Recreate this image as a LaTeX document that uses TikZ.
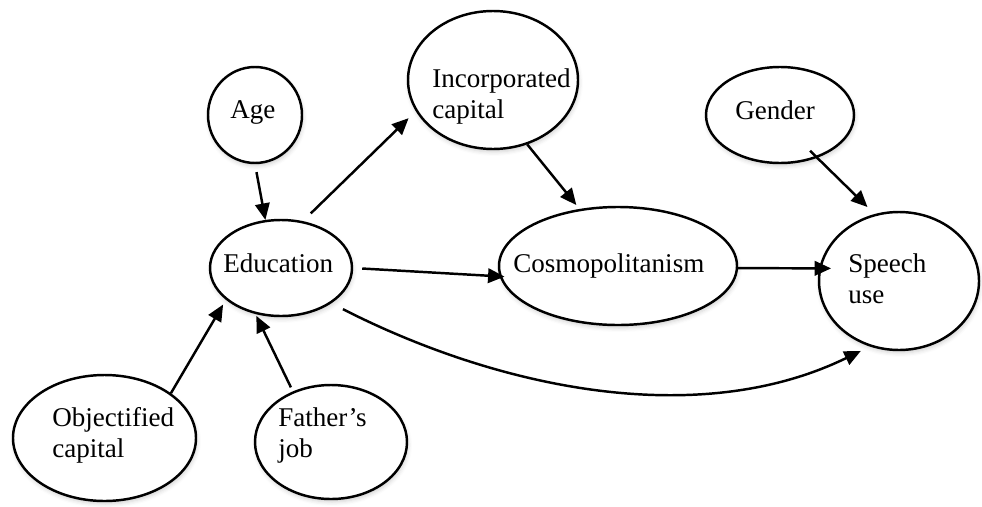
\documentclass[tikz,border=0pt]{standalone}
\usepackage{fontspec}
\setmainfont{Liberation Serif}
\usetikzlibrary{arrows.meta,shapes.geometric,shadows.blur}

\begin{document}
\begin{tikzpicture}[
    var/.style={ellipse, draw, line width=1.4pt, fill=white, inner sep=0pt,
        blur shadow={shadow xshift=0.02cm, shadow yshift=-0.06cm,
            shadow blur radius=0.08cm, shadow opacity=18}},
    lbl/.style={anchor=base west, inner sep=0pt, align=left,
        font=\fontsize{15.4pt}{17.1pt}\selectfont},
    arr/.style={line width=1.4pt, -{Triangle[length=0.33cm,width=0.29cm]}}
]
    \useasboundingbox (0,0) rectangle (19.64,10.12);

    % the variables
    \node [var, minimum width=1.88cm, minimum height=1.92cm] (age) at (5.10, 7.82) {};
    \node [var, minimum width=3.40cm, minimum height=2.76cm] (inc) at (9.86, 8.52) {};
    \node [var, minimum width=2.96cm, minimum height=1.92cm] (gen) at (15.60, 7.82) {};
    \node [var, minimum width=2.84cm, minimum height=1.92cm] (edu) at (5.62, 4.76) {};
    \node [var, minimum width=4.76cm, minimum height=2.36cm] (cos) at (12.36, 4.80) {};
    \node [var, minimum width=3.20cm, minimum height=2.76cm] (spch) at (17.98, 4.50) {};
    \node [var, minimum width=3.66cm, minimum height=2.52cm] (obj) at (2.09, 1.36) {};
    \node [var, minimum width=3.04cm, minimum height=2.28cm] (fjob) at (6.62, 1.28) {};

    % labels sit on the baseline of their last line
    \node [lbl] (age-t) at (4.60, 7.76) {Age};
    \node [lbl] (inc-t) at (8.64, 7.76) {Incorporated\\capital};
    \node [lbl] (gen-t) at (14.70, 7.74) {Gender};
    \node [lbl] (edu-t) at (4.46, 4.68) {Education};
    \node [lbl] (cos-t) at (10.26, 4.68) {Cosmopolitanism};
    \node [lbl] (spch-t) at (16.96, 4.06) {Speech\\use};
    \node [lbl] (obj-t) at (1.04, 0.98) {Objectified\\capital};
    \node [lbl] (fjob-t) at (5.56, 0.98) {Father’s\\job};

    % paths
    \draw [arr, shorten <=0.16cm] (age.-90) -- (edu.108);
    \draw [arr, shorten <=0.22cm, shorten >=0.2cm] (edu.65.5) -- (inc.202.7);
    \draw [arr, shorten >=0.1cm] (inc.-62) -- (cos.124.5);
    \draw [arr, shorten <=-0.2cm, shorten >=0.2cm] (gen.-49.4) -- (spch.110.9);
    \draw [arr, shorten <=0.18cm, shorten >=-0.1cm] (edu.0) -- (cos.185.6);
    \draw [arr, shorten >=-0.24cm] (cos.-1) -- (spch.171);
    \draw [arr, shorten <=0.26cm, shorten >=0.2cm] (edu.-35.6) to [out=-27, in=206, looseness=0.9] (spch.246.3);
    \draw [arr, shorten >=0.11cm] (obj.34.6) -- (edu.210.7);
    \draw [arr, shorten <=0.09cm, shorten >=0.04cm] (fjob.127.2) -- (edu.241.6);
\end{tikzpicture}
\end{document}
